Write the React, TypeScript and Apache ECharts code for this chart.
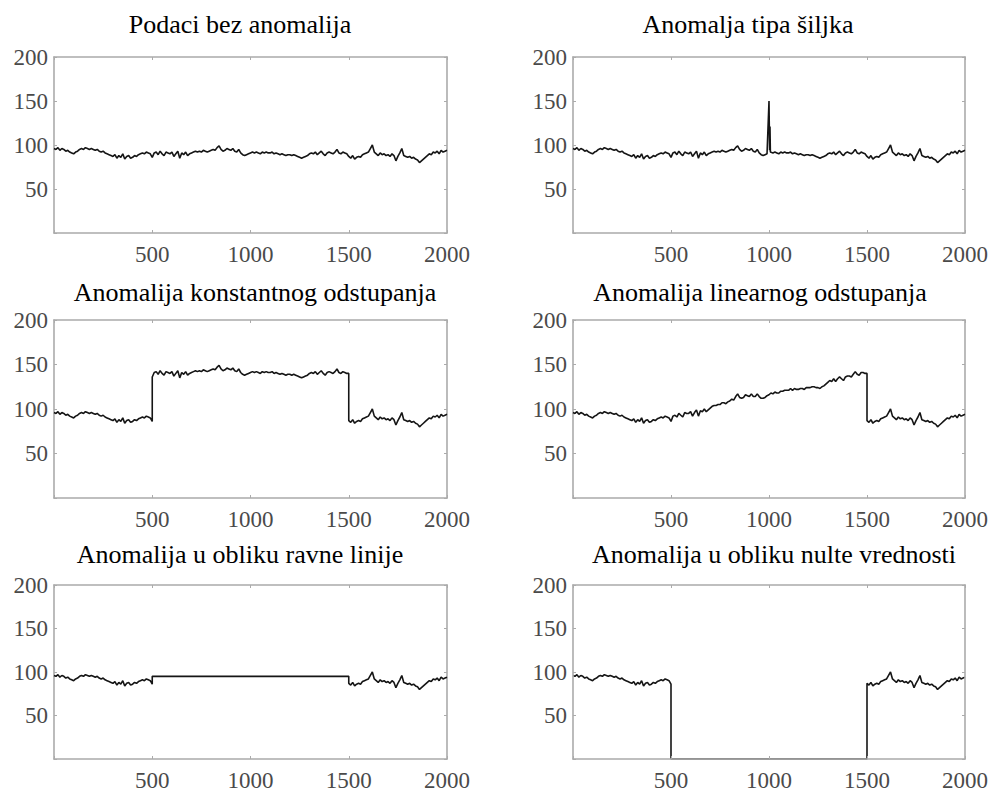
import React, { useEffect, useRef } from "react";
import * as echarts from "echarts";

// ---- data (sample step = 10) ----
const X_STEP = 10;
const X_MAX = 2000;
const Y_MAX = 200;
const X_TICKS = [500, 1000, 1500, 2000];
const Y_TICKS = [50, 100, 150, 200];

// base signal, x = 0..2000
const baseSignal = [
  96, 95, 97, 94, 96, 95, 93, 94, 92, 91,
  90, 92, 93, 95, 96, 95, 97, 96, 95, 96,
  95, 94, 95, 93, 92, 93, 91, 90, 89, 88,
  87, 89, 85, 88, 86, 90, 84, 87, 88, 85,
  86, 88, 87, 89, 90, 91, 90, 92, 91, 90,
  86, 91, 92, 89, 93, 90, 88, 92, 91, 90,
  92, 87, 90, 93, 85, 91, 89, 92, 88, 90,
  91, 92, 93, 92, 93, 92, 94, 93, 92, 93,
  94, 95, 94, 97, 99, 95, 93, 94, 96, 95,
  94, 96, 93, 92, 95, 91, 89, 88, 89, 90,
  91, 92, 91, 92, 91, 90, 92, 91, 92, 91,
  91, 92, 90, 91, 90, 89, 90, 89, 88, 89,
  89, 88, 89, 88, 87, 86, 85, 86, 87, 88,
  90, 91, 90, 92, 89, 91, 93, 90, 88, 91,
  92, 91, 90, 92, 95, 91, 90, 92, 91, 90,
  87, 85, 88, 84, 86, 87, 86, 89, 90, 91,
  92, 96, 100, 92, 90, 88, 91, 89, 90, 88,
  89, 87, 90, 88, 82, 87, 91, 96, 88, 87,
  86, 87, 85, 86, 84, 83, 80, 82, 84, 86,
  88, 90, 89, 92, 91, 93, 90, 94, 92, 93,
  94,
];

// spike anomaly near x = 1000: [x, value]
const spikePoints = [
  [1000, 150],
  [1003, 94],
  [1005, 121],
  [1007, 92],
];

// anomaly window
const ANOMALY_START = 500;
const ANOMALY_END = 1500;

// constant-offset segment, x = 500..1500
const offsetSegment = [
  136, 141, 142, 139, 143, 140, 138, 142, 141, 140,
  142, 137, 140, 143, 135, 141, 139, 142, 138, 140,
  141, 142, 143, 142, 143, 142, 144, 143, 142, 143,
  144, 145, 144, 147, 149, 145, 143, 144, 146, 145,
  144, 146, 143, 142, 145, 141, 139, 138, 139, 140,
  141, 142, 141, 142, 141, 140, 142, 141, 142, 141,
  141, 142, 140, 141, 140, 139, 140, 139, 138, 139,
  139, 138, 139, 138, 137, 136, 135, 136, 137, 138,
  140, 141, 140, 142, 139, 141, 143, 140, 138, 141,
  142, 141, 140, 142, 145, 141, 140, 142, 141, 140,
  140,
];

// linear-drift segment, x = 500..1500
const driftSegment = [
  86, 92, 93, 91, 95, 93, 91, 96, 95, 95,
  97, 92, 96, 99, 92, 98, 97, 100, 97, 99,
  101, 103, 104, 104, 105, 105, 107, 107, 106, 108,
  109, 111, 110, 114, 117, 113, 112, 113, 116, 115,
  114, 117, 114, 114, 117, 114, 112, 112, 113, 115,
  116, 118, 117, 119, 118, 118, 120, 120, 121, 121,
  121, 123, 121, 123, 122, 122, 123, 123, 122, 124,
  124, 124, 125, 125, 124, 124, 123, 125, 126, 128,
  130, 132, 131, 134, 131, 134, 136, 134, 132, 136,
  137, 137, 136, 139, 142, 139, 138, 141, 141, 140,
  140,
];

// flat-line level and zero level within the window
const FLAT_LEVEL = 95;
const ZERO_LEVEL = 0;

const titles = [
  "Podaci bez anomalija",
  "Anomalja tipa šiljka",
  "Anomalija konstantnog odstupanja",
  "Anomalija linearnog odstupanja",
  "Anomalija u obliku ravne linije",
  "Anomalija u obliku nulte vrednosti",
];

// ---- build series ----
const basePairs = baseSignal.map((v, i) => [i * X_STEP, v]);

function withWindow(segment: number[]) {
  const before = basePairs.filter((p) => p[0] <= ANOMALY_START);
  const seg = segment.map((v, i) => [ANOMALY_START + i * X_STEP, v]);
  const after = basePairs.filter((p) => p[0] >= ANOMALY_END);
  return [...before, ...seg, ...after];
}

const flatSegment = offsetSegment.map(() => FLAT_LEVEL);
const zeroSegment = offsetSegment.map(() => ZERO_LEVEL);

const spikeSeries = [
  ...basePairs.filter((p) => p[0] < spikePoints[0][0]),
  ...spikePoints,
  ...basePairs.filter((p) => p[0] > spikePoints[spikePoints.length - 1][0]),
];

const panelData = [
  basePairs,
  spikeSeries,
  withWindow(offsetSegment),
  withWindow(driftSegment),
  withWindow(flatSegment),
  withWindow(zeroSegment),
];

// ---- layout ----
const colLeft = [54, 573];
const rowTop = [57, 320, 585];
const rowHeight = [176, 178, 177];
const plotWidth = 393;
const titleCenterX = [240, 748, 255, 760, 240, 774];
const titleTop = [11, 11, 279, 279, 541, 541];

const FONT = "'Liberation Serif', 'Times New Roman', serif";
const FRAME = "#ababab";
const LABEL = "#4a4a4a";

export default function App() {
  const ref = useRef<HTMLDivElement>(null);
  useEffect(() => {
    if (!ref.current) return;
    const chart = echarts.init(ref.current, undefined, { renderer: "svg" });
    const grid: any[] = [];
    const xAxis: any[] = [];
    const yAxis: any[] = [];
    const series: any[] = [];
    const title: any[] = [];
    for (let p = 0; p < 6; p++) {
      const r = Math.floor(p / 2);
      const c = p % 2;
      grid.push({
        left: colLeft[c],
        top: rowTop[r],
        width: plotWidth,
        height: rowHeight[r],
        containLabel: false,
      });
      const axisLine = { show: true, onZero: false, lineStyle: { color: FRAME, width: 1.6 } };
      const tick = { show: true, inside: true, length: 3, lineStyle: { color: FRAME, width: 1 } };
      xAxis.push({
        type: "value",
        gridIndex: p,
        min: 0,
        max: X_MAX,
        interval: 500,
        position: "bottom",
        axisLine,
        axisTick: tick,
        splitLine: { show: false },
        axisLabel: {
          show: true,
          margin: 10,
          fontFamily: FONT,
          fontSize: 23,
          color: LABEL,
          formatter: (v: number) => (X_TICKS.includes(v) ? String(v) : ""),
        },
      });
      xAxis.push({
        type: "value",
        gridIndex: p,
        min: 0,
        max: X_MAX,
        interval: 500,
        position: "top",
        axisLine,
        axisTick: tick,
        splitLine: { show: false },
        axisLabel: { show: false },
      });
      yAxis.push({
        type: "value",
        gridIndex: p,
        min: 0,
        max: Y_MAX,
        interval: 50,
        position: "left",
        axisLine,
        axisTick: tick,
        splitLine: { show: false },
        axisLabel: {
          show: true,
          margin: 6,
          fontFamily: FONT,
          fontSize: 23,
          color: LABEL,
          formatter: (v: number) => (Y_TICKS.includes(v) ? String(v) : ""),
        },
      });
      yAxis.push({
        type: "value",
        gridIndex: p,
        min: 0,
        max: Y_MAX,
        interval: 50,
        position: "right",
        axisLine,
        axisTick: tick,
        splitLine: { show: false },
        axisLabel: { show: false },
      });
      series.push({
        type: "line",
        xAxisIndex: 2 * p,
        yAxisIndex: 2 * p,
        data: panelData[p],
        showSymbol: false,
        symbol: "none",
        z: p === 5 ? -1 : 2,
        lineStyle: { color: "#151515", width: 1.6 },
        clip: true,
      });
      title.push({
        text: titles[p],
        left: titleCenterX[p],
        top: titleTop[p],
        textAlign: "center",
        padding: 0,
        textStyle: {
          fontFamily: FONT,
          fontSize: 26,
          fontWeight: "normal",
          color: "#000",
        },
      });
    }
    chart.setOption({
      animation: false,
      backgroundColor: "#fff",
      title,
      grid,
      xAxis,
      yAxis,
      series,
    });
    return () => chart.dispose();
  }, []);
  return (
    <div
      ref={ref}
      style={{ position: "fixed", left: 0, top: 0, width: 991, height: 792, background: "#fff" }}
    />
  );
}
